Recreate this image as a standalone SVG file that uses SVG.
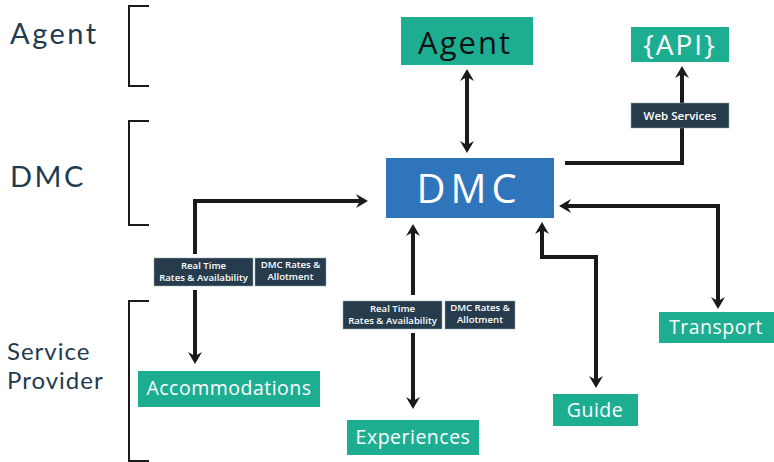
<svg xmlns="http://www.w3.org/2000/svg" width="774" height="462" viewBox="0 0 774 462">
<defs>
<marker id="ah" viewBox="0 0 12 14" refX="5" refY="7" markerWidth="12" markerHeight="14" markerUnits="userSpaceOnUse" orient="auto-start-reverse">
<path d="M0,0 L12,7 L0,14 L4,7 z" fill="#1a1a1a"/>
</marker>
</defs>
<style>
.t{font-family:"Open Sans","Noto Sans","DejaVu Sans",sans-serif}
.tl{font-family:Lato,"Open Sans","DejaVu Sans",sans-serif}
.lab{fill:#1e3a4f}
.node{fill:#1dae92}
.w{fill:#fff}
.dark{fill:#263c4d}
.sm{font-size:9.6px;font-weight:600;fill:#fff;text-anchor:middle}
.br{fill:none;stroke:#1a1a1a;stroke-width:2}
.c{fill:none;stroke:#1a1a1a;stroke-width:4}
.ca{fill:none;stroke:#1a1a1a;stroke-width:4;marker-end:url(#ah)}
.cb{fill:none;stroke:#1a1a1a;stroke-width:4;marker-end:url(#ah);marker-start:url(#ah)}
</style>
<rect width="774" height="462" fill="#fff"/>
<!-- brackets and tier labels -->
<g id="tiers">
<path class="br" d="M149,6 H129 V86 H149"/>
<path class="br" d="M149,121 H129 V225 H149"/>
<path class="br" d="M149,301 H129 V461 H149"/>
<text class="tl lab" x="10" y="44" font-size="29" letter-spacing="2.5">Agent</text>
<text class="tl lab" x="10" y="187" font-size="29" letter-spacing="2.5">DMC</text>
<text class="tl lab" x="7" y="360" font-size="24" letter-spacing="1">Service</text>
<text class="tl lab" x="7" y="389" font-size="24" letter-spacing="1">Provider</text>
</g>
<g id="connectors">
<line class="cb" x1="467" y1="76" x2="467" y2="146"/>
<polyline class="c" points="565,163 682,163 682,128"/>
<line class="ca" x1="682" y1="103" x2="682" y2="73"/>
<polyline class="cb" points="566,206 718,206 718,302"/>
<polyline class="cb" points="542,229 542,257 596,257 596,381"/>
<polyline class="ca" points="195,254 195,201 361,201"/>
<line class="ca" x1="195" y1="290" x2="195" y2="357"/>
<line class="ca" x1="413" y1="295" x2="413" y2="231"/>
<line class="ca" x1="413" y1="333" x2="413" y2="402"/>
</g>
<g id="agent">
<rect class="node" x="401" y="17" width="132" height="48"/>
<text class="t" x="465" y="54" font-size="31" letter-spacing="2" fill="#111" text-anchor="middle">Agent</text>
</g>
<g id="api">
<rect class="node" x="631" y="27" width="98" height="35"/>
<text class="t w" x="680" y="55" font-size="28" letter-spacing="2" text-anchor="middle">{API}</text>
</g>
<g id="webservices">
<rect class="dark" x="631" y="103" width="98" height="25" stroke="#9aa" stroke-width="0.5"/>
<text class="t" x="680" y="120" font-size="11.5" font-weight="600" fill="#fff" text-anchor="middle">Web Services</text>
</g>
<g id="dmc">
<rect x="386" y="158" width="168" height="60" fill="#3074bc"/>
<text class="t w" x="469" y="203" font-size="40" letter-spacing="5" text-anchor="middle">DMC</text>
</g>
<g id="transport">
<rect class="node" x="659" y="312" width="115" height="31"/>
<text class="t w" x="716" y="334" font-size="19.5" letter-spacing="0.5" text-anchor="middle">Transport</text>
</g>
<g id="guide">
<rect class="node" x="553" y="394" width="85" height="32"/>
<text class="t w" x="595" y="417" font-size="19.5" letter-spacing="0.5" text-anchor="middle">Guide</text>
</g>
<g id="accommodations">
<rect class="node" x="138" y="371" width="182" height="36"/>
<text class="t w" x="229" y="395" font-size="19.5" letter-spacing="0.5" text-anchor="middle">Accommodations</text>
</g>
<g id="experiences">
<rect class="node" x="347" y="420" width="132" height="35"/>
<text class="t w" x="413" y="444" font-size="19.5" letter-spacing="0.5" text-anchor="middle">Experiences</text>
</g>
<g id="label-acc-rt">
<rect class="dark" x="154" y="258" width="99" height="28" stroke="#9aa" stroke-width="0.5"/>
<text class="t sm" x="203.5" y="269">Real Time</text>
<text class="t sm" x="203.5" y="281">Rates &amp; Availability</text>
</g>
<g id="label-acc-dmc">
<rect class="dark" x="255" y="258" width="71" height="28" stroke="#9aa" stroke-width="0.5"/>
<text class="t sm" x="290.5" y="268" font-size="9">DMC Rates &amp;</text>
<text class="t sm" x="290.5" y="280" font-size="9">Allotment</text>
</g>
<g id="label-exp-rt">
<rect class="dark" x="343" y="301" width="99" height="28" stroke="#9aa" stroke-width="0.5"/>
<text class="t sm" x="392.5" y="312">Real Time</text>
<text class="t sm" x="392.5" y="324">Rates &amp; Availability</text>
</g>
<g id="label-exp-dmc">
<rect class="dark" x="445" y="301" width="70" height="28" stroke="#9aa" stroke-width="0.5"/>
<text class="t sm" x="480" y="311" font-size="9">DMC Rates &amp;</text>
<text class="t sm" x="480" y="323" font-size="9">Allotment</text>
</g>
</svg>
